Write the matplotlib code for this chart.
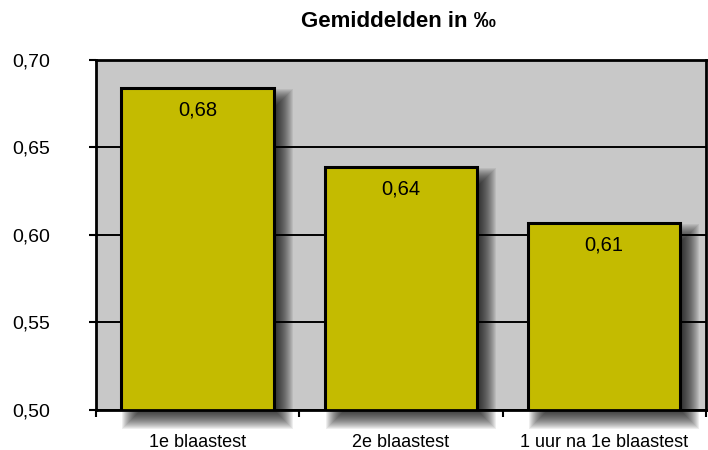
import matplotlib
matplotlib.use("Agg")
import matplotlib.pyplot as plt  # noqa: E402
import numpy as np  # noqa: E402
from matplotlib.patches import Rectangle  # noqa: E402
from matplotlib.transforms import IdentityTransform  # noqa: E402

categories = ["1e blaastest", "2e blaastest", "1 uur na 1e blaastest"]
values = [0.684, 0.639, 0.607]
yticks = [0.50, 0.55, 0.60, 0.65, 0.70]
title = "Gemiddelden in ‰"

C_BAR = "#C4BB00"
C_BG = "#C8C8C8"
plt.rcParams["font.family"] = ["Liberation Sans", "DejaVu Sans"]

fig = plt.figure(figsize=(7.08, 4.5), dpi=100)
ax = fig.add_axes([0.1356, 0.0889, 0.8614, 0.7778])
ax.set_facecolor(C_BG)

x = np.arange(len(categories))
w = 0.75
bars = ax.bar(x, values, w, color=C_BAR, edgecolor="black",
              linewidth=2.2, zorder=3)
ax.set_xlim(-0.5, len(categories) - 0.5)
ax.set_ylim(0.5, 0.7)

# gridlines
ax.set_yticks(yticks)
ax.set_yticklabels([f"{t:.2f}".replace(".", ",") for t in yticks], fontsize=14)
ax.yaxis.grid(True, color="black", lw=1.4)
ax.set_axisbelow(False)
for gl in ax.get_ygridlines():
    gl.set_zorder(2)

# x ticks at category boundaries, labels centered
ax.set_xticks(np.arange(len(categories) + 1) - 0.5)
ax.set_xticklabels([])
ax.set_xticks(x, minor=True)
ax.set_xticklabels(categories, minor=True, fontsize=13)
ax.tick_params(axis="x", which="minor", length=0, pad=17)
ax.tick_params(axis="x", which="major", length=5, width=1.5, direction="out")
ax.tick_params(axis="y", length=5, width=1.5, direction="out", pad=55)
for lab in ax.get_yticklabels():
    lab.set_horizontalalignment("left")
for sp in ax.spines.values():
    sp.set_linewidth(2)
    sp.set_zorder(5)

fig.suptitle(title, fontsize=16, fontweight="bold", y=0.975, x=0.563)

# soft drop shadow behind bars
fig.canvas.draw()
for b in bars:
    (x0, y0), (x1, y1) = ax.transData.transform(
        [(b.get_x(), 0.5), (b.get_x() + b.get_width(), b.get_height())])
    dx, dy = 10, -10
    for r in range(-9, 10):
        sh = Rectangle((x0 + dx - r, y0 + dy - r), (x1 - x0) + 2 * r,
                       (y1 - y0) + 2 * r, transform=IdentityTransform(),
                       facecolor="black", edgecolor="none", alpha=0.065,
                       zorder=1.5, clip_on=False)
        ax.add_artist(sh)

for b, v in zip(bars, values):
    ax.annotate(f"{v:.2f}".replace(".", ","), (b.get_x() + b.get_width() / 2, v),
                xytext=(0, -22), textcoords="offset pixels", ha="center",
                va="center", fontsize=14.5, zorder=4)

fig.savefig("out.png", dpi=100)
